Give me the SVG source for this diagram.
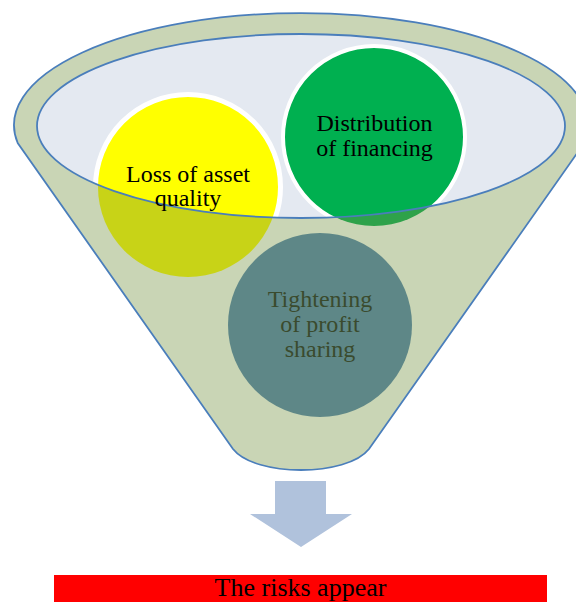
<svg xmlns="http://www.w3.org/2000/svg" width="576" height="602" viewBox="0 0 576 602">
<style>
.lbl{font-family:"Liberation Serif","Times New Roman",serif;font-size:24px;text-anchor:middle;fill:#000}
.teal{fill:#3A4B2E}
.edge{fill:none;stroke:#4A7EBB;stroke-width:1.8}
</style>
<defs>
<clipPath id="inner"><ellipse cx="301" cy="126" rx="264" ry="92"/></clipPath>
</defs>
<rect width="576" height="602" fill="#fff"/>
<g id="funnel">
<path d="M17.7,143 A287,112 0 1 1 584.3,143 L369,449 C347,477 255,477 233,449 Z" fill="#C9D5B5" stroke="#4A7EBB" stroke-width="1.8"/>
<ellipse cx="301" cy="126" rx="264" ry="92" fill="#E4E9F1"/>
</g>
<g id="loss">
<circle cx="188" cy="187" r="90" fill="#C8D317"/>
<circle cx="188" cy="187" r="92.5" fill="#FFFF00" stroke="#fff" stroke-width="5" clip-path="url(#inner)"/>
</g>
<g id="distribution">
<circle cx="374" cy="137" r="89" fill="#2EA24A"/>
<circle cx="374" cy="137" r="91" fill="#00B050" stroke="#fff" stroke-width="4" clip-path="url(#inner)"/>
</g>
<g id="tightening">
<circle cx="320" cy="325" r="92" fill="#5E8787"/>
</g>
<ellipse class="edge" cx="301" cy="126" rx="264" ry="92"/>
<text class="lbl" x="188" y="182">Loss of asset</text>
<text class="lbl" x="188" y="206">quality</text>
<text class="lbl" x="374.5" y="131">Distribution</text>
<text class="lbl" x="374.5" y="155.5">of financing</text>
<text class="lbl teal" x="320" y="307">Tightening</text>
<text class="lbl teal" x="320" y="332">of profit</text>
<text class="lbl teal" x="320" y="357">sharing</text>
<g id="connectors">
<path d="M275,481 H326 V514 H352 L301,547 L250,514 H275 Z" fill="#B0C2DC"/>
</g>
<g id="risks">
<rect x="54" y="575" width="493" height="27" fill="#FF0000"/>
<text class="lbl" x="300.5" y="596" style="font-size:26px">The risks appear</text>
</g>
</svg>
